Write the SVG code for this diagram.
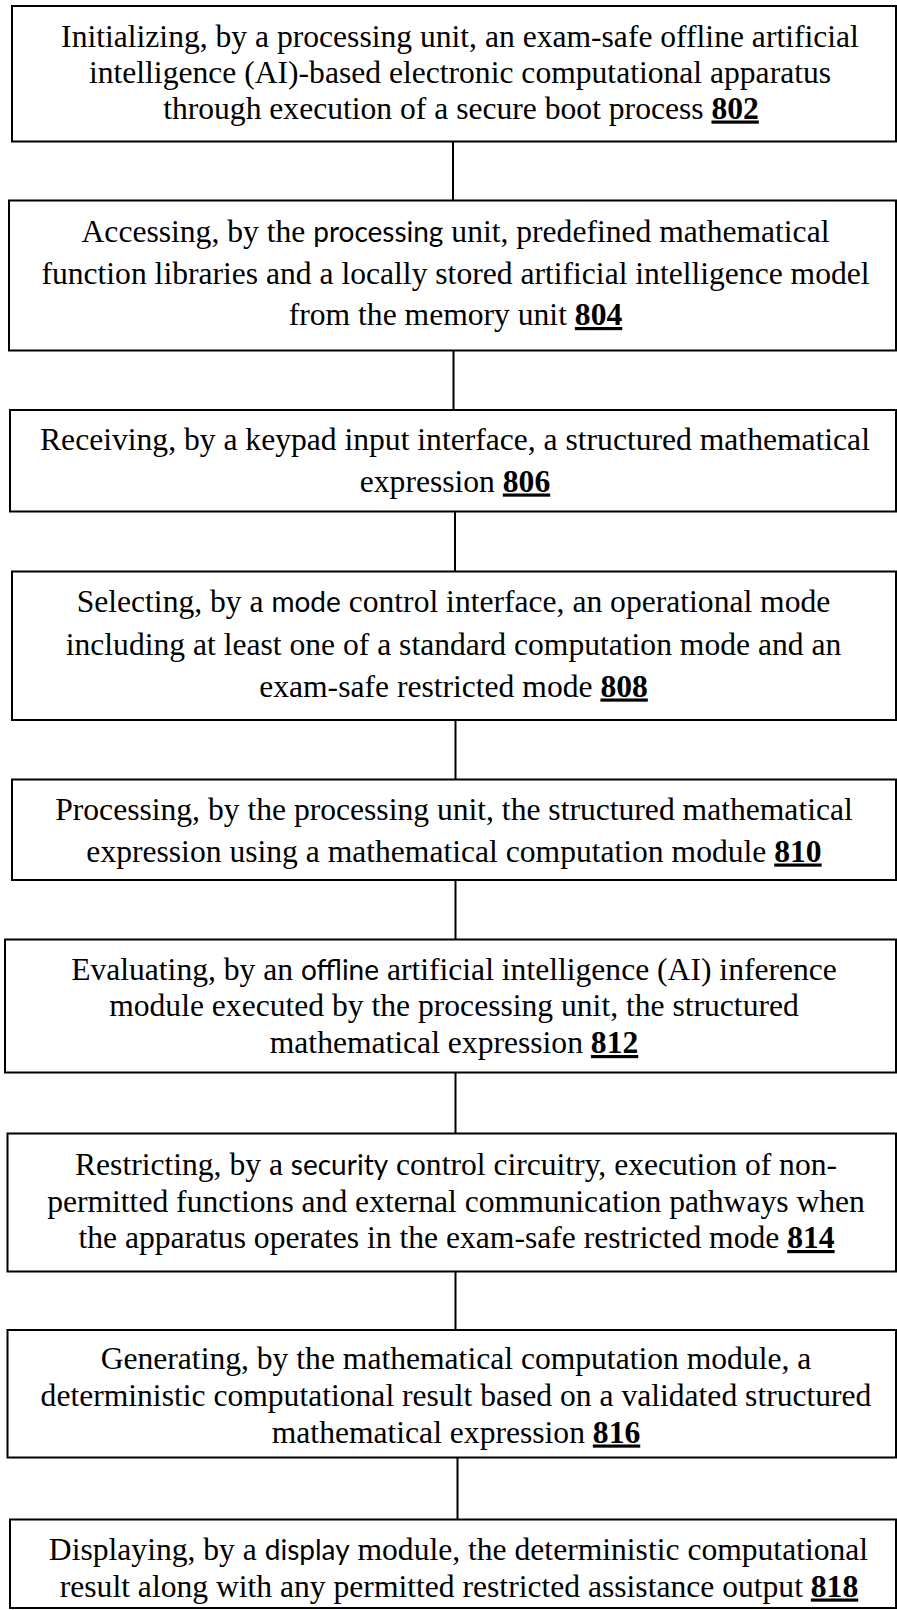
<svg xmlns="http://www.w3.org/2000/svg" width="897" height="1610" viewBox="0 0 897 1610">
  <style>
    .box { fill: #fff; stroke: #000; stroke-width: 2; }
    .link { stroke: #000; stroke-width: 2; fill: none; }
    .t { font-family: "Liberation Serif", "Times New Roman", serif; font-size: 31.6px; fill: #000; text-anchor: middle; }
    .s { font-family: Lato, "Open Sans", sans-serif; font-size: 28px; }
    .ref { font-weight: bold; text-decoration: underline; }
  </style>
  <rect width="897" height="1610" fill="#fff"/>

  <!-- connectors between consecutive steps -->
  <g id="connectors">
    <line class="link" x1="453" y1="141.5" x2="453" y2="200.5"/>
    <line class="link" x1="453.5" y1="350.5" x2="453.5" y2="410"/>
    <line class="link" x1="455" y1="511.5" x2="455" y2="571.5"/>
    <line class="link" x1="455.5" y1="720" x2="455.5" y2="779.5"/>
    <line class="link" x1="455.5" y1="880" x2="455.5" y2="939.5"/>
    <line class="link" x1="455.5" y1="1072.5" x2="455.5" y2="1133.5"/>
    <line class="link" x1="455.5" y1="1271.5" x2="455.5" y2="1330"/>
    <line class="link" x1="457.5" y1="1457.5" x2="457.5" y2="1519.5"/>
  </g>

  <g id="step802">
    <rect class="box" x="12" y="6" width="884" height="135.5"/>
    <text class="t" x="460" y="47">Initializing, by a processing unit, an exam-safe offline artificial</text>
    <text class="t" x="460" y="83">intelligence (AI)-based electronic computational apparatus</text>
    <text class="t" x="461" y="118.5">through execution of a secure boot process <tspan class="ref">802</tspan></text>
  </g>

  <g id="step804">
    <rect class="box" x="9" y="200.5" width="887" height="150"/>
    <text class="t" x="455.5" y="242">Accessing, by the <tspan class="s">processing</tspan> unit, predefined mathematical</text>
    <text class="t" x="455.5" y="283.5">function libraries and a locally stored artificial intelligence model</text>
    <text class="t" x="455.5" y="325">from the memory unit <tspan class="ref">804</tspan></text>
  </g>

  <g id="step806">
    <rect class="box" x="10" y="410" width="886" height="101.5"/>
    <text class="t" x="455" y="450">Receiving, by a keypad input interface, a structured mathematical</text>
    <text class="t" x="455" y="491.5">expression <tspan class="ref">806</tspan></text>
  </g>

  <g id="step808">
    <rect class="box" x="12" y="571.5" width="884" height="148.5"/>
    <text class="t" x="453.5" y="611.5">Selecting, by a <tspan class="s">mode</tspan> control interface, an operational mode</text>
    <text class="t" x="453.5" y="655">including at least one of a standard computation mode and an</text>
    <text class="t" x="453.5" y="696.5">exam-safe restricted mode <tspan class="ref">808</tspan></text>
  </g>

  <g id="step810">
    <rect class="box" x="12" y="779.5" width="884" height="100.5"/>
    <text class="t" x="454" y="819.5">Processing, by the processing unit, the structured mathematical</text>
    <text class="t" x="454" y="861.5">expression using a mathematical computation module <tspan class="ref">810</tspan></text>
  </g>

  <g id="step812">
    <rect class="box" x="5" y="939.5" width="891" height="133"/>
    <text class="t" x="454" y="980">Evaluating, by an <tspan class="s">offline</tspan> artificial intelligence (AI) inference</text>
    <text class="t" x="454" y="1016">module executed by the processing unit, the structured</text>
    <text class="t" x="454" y="1053">mathematical expression <tspan class="ref">812</tspan></text>
  </g>

  <g id="step814">
    <rect class="box" x="7.5" y="1133.5" width="888.5" height="138"/>
    <text class="t" x="456" y="1175">Restricting, by a <tspan class="s">security</tspan> control circuitry, execution of non-</text>
    <text class="t" x="456" y="1211.5">permitted functions and external communication pathways when</text>
    <text class="t" x="456.5" y="1248">the apparatus operates in the exam-safe restricted mode <tspan class="ref">814</tspan></text>
  </g>

  <g id="step816">
    <rect class="box" x="7.5" y="1330" width="888.5" height="127.5"/>
    <text class="t" x="456" y="1369">Generating, by the mathematical computation module, a</text>
    <text class="t" x="456" y="1406">deterministic computational result based on a validated structured</text>
    <text class="t" x="456" y="1442.5">mathematical expression <tspan class="ref">816</tspan></text>
  </g>

  <g id="step818">
    <rect class="box" x="10" y="1519.5" width="886" height="88.5"/>
    <text class="t" x="458.5" y="1560">Displaying, by a <tspan class="s">display</tspan> module, the deterministic computational</text>
    <text class="t" x="459" y="1596.5">result along with any permitted restricted assistance output <tspan class="ref">818</tspan></text>
  </g>
</svg>
